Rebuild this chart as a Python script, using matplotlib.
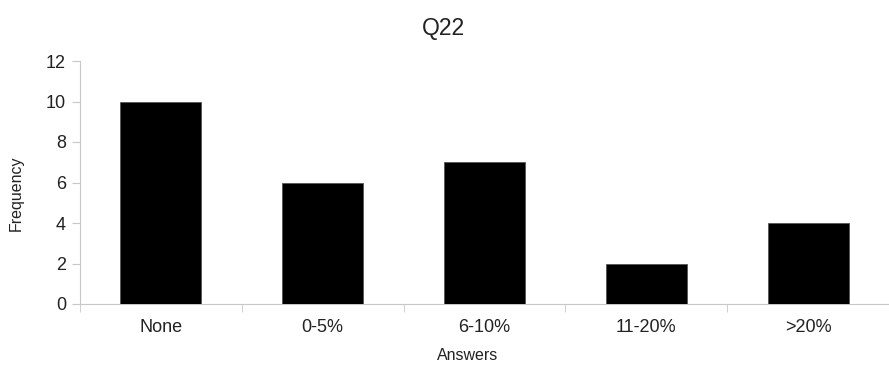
import matplotlib
matplotlib.use("Agg")
import matplotlib.pyplot as plt
import numpy as np

categories = ["None", "0-5%", "6-10%", "11-20%", ">20%"]
frequency = [10, 6, 7, 2, 4]
y_ticks = [0, 2, 4, 6, 8, 10, 12]

plt.rcParams["font.family"] = ["Liberation Sans", "DejaVu Sans"]

W, H = 889, 366
fig = plt.figure(figsize=(W / 100, H / 100), dpi=100)
ax = fig.add_axes([80 / W, 1 - 304 / H, 809 / W, (304 - 61) / H])

x = np.arange(len(categories))
ax.bar(x, frequency, width=0.5, color="black", edgecolor="#555555", linewidth=0.6, zorder=3)

ax.set_xlim(-0.5, len(categories) - 0.5)
ax.set_ylim(0, 12)
ax.set_yticks(y_ticks)
ax.set_xticks(x)
ax.set_xticklabels(categories)
ax.set_xticks(np.arange(-0.5, len(categories), 1.0), minor=True)

gray = "#c8c8c8"
text_color = "#222222"
for side in ["top", "right"]:
    ax.spines[side].set_visible(False)
for side in ["left", "bottom"]:
    ax.spines[side].set_color(gray)
    ax.spines[side].set_linewidth(0.8)

ax.tick_params(axis="y", length=6, color=gray, labelsize=13, pad=4, labelcolor=text_color)
ax.tick_params(axis="x", which="major", length=0, labelsize=13, pad=11, labelcolor=text_color)
ax.tick_params(axis="x", which="minor", length=6, color=gray)

fig.text(443 / W, 1 - 28 / H, "Q22", ha="center", va="center", fontsize=16.5, color=text_color)
fig.text(468 / W, 1 - 356 / H, "Answers", ha="center", va="center", fontsize=11.5, color=text_color)
fig.text(16 / W, 1 - 193 / H, "Frequency", ha="center", va="center", rotation=90,
         fontsize=11.5, color=text_color)

fig.savefig("out.png", dpi=100)
